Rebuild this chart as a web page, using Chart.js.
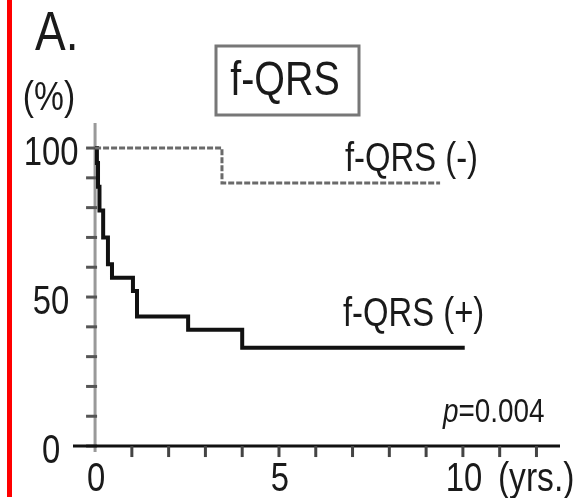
<!DOCTYPE html>
<html>
<head>
<meta charset="utf-8">
<script src="https://cdn.jsdelivr.net/npm/chart.js@4.4.1/dist/chart.umd.min.js"></script>
<style>
  html, body { margin: 0; padding: 0; background: #fff; }
  #wrap { position: relative; width: 581px; height: 498px; overflow: hidden; }
  #redBar { position: absolute; left: 7px; top: 0; width: 5px; height: 497px; background: #ff0000; }
  canvas { position: absolute; left: 0; top: 0; }
</style>
</head>
<body>
<div id="wrap">
  <canvas id="kmChart" width="581" height="498"></canvas>
  <div id="redBar"></div>
</div>
<script>
// Kaplan-Meier curves (years, % event free)
const negTimes = [0, 3.45, 9.38];
const negSurvival = [100, 88.3, 88.3];
const posTimes = [0, 0.05, 0.08, 0.12, 0.22, 0.35, 0.46, 1.03, 1.14, 2.53, 4.0, 10.05];
const posSurvival = [100, 95, 87, 79, 70, 61, 56.5, 52, 43.5, 39, 33, 33];

const xLabelValues = [0, 5, 10];
const yLabelValues = [0, 50, 100];
const xTickValues = [0, 1, 2, 3, 4, 5, 6, 7, 8, 9, 10, 11, 12];
const yTickValues = [0, 10, 20, 30, 40, 50, 60, 70, 80, 90, 100];

const FONT = '"Liberation Sans", Arial, sans-serif';
const TEXT = '#1a1a1a';
const SQUEEZE = 0.82; // the scan's lettering is a narrow Arial

function pts(xs, ys) {
  return xs.map((t, i) => ({ x: t, y: ys[i] }));
}

// draws real text, horizontally condensed
function narrowText(ctx, str, x, y, size, align, style) {
  ctx.save();
  ctx.font = (style ? style + ' ' : '') + size + 'px ' + FONT;
  ctx.textAlign = align;
  ctx.textBaseline = 'alphabetic';
  ctx.fillStyle = TEXT;
  ctx.translate(x, y);
  ctx.scale(SQUEEZE, 1);
  ctx.fillText(str, 0, 0);
  const w = ctx.measureText(str).width * SQUEEZE;
  ctx.restore();
  return w;
}

const axesPlugin = {
  id: 'kmAxes',
  beforeDatasetsDraw(chart) {
    const ctx = chart.ctx;
    const xs = chart.scales.x, ys = chart.scales.y, area = chart.chartArea;
    const x0 = xs.getPixelForValue(0), y0 = ys.getPixelForValue(0);
    ctx.save();
    // y axis
    ctx.strokeStyle = '#999';
    ctx.lineWidth = 3;
    ctx.beginPath(); ctx.moveTo(x0, area.top); ctx.lineTo(x0, area.bottom); ctx.stroke();
    ctx.strokeStyle = '#555';
    yTickValues.forEach(v => {
      const py = ys.getPixelForValue(v);
      ctx.beginPath(); ctx.moveTo(x0 - 9, py); ctx.lineTo(x0 + 2, py); ctx.stroke();
    });
    // x axis
    ctx.strokeStyle = '#111';
    ctx.beginPath(); ctx.moveTo(area.left, y0); ctx.lineTo(area.right, y0); ctx.stroke();
    ctx.strokeStyle = '#444';
    xTickValues.forEach(v => {
      if (v === 0) return;
      const px = xs.getPixelForValue(v);
      ctx.beginPath(); ctx.moveTo(px, y0); ctx.lineTo(px, y0 + 11); ctx.stroke();
    });
    ctx.restore();
  },
  afterDraw(chart) {
    const ctx = chart.ctx;
    const xs = chart.scales.x, ys = chart.scales.y;
    const x0 = xs.getPixelForValue(0), y0 = ys.getPixelForValue(0);

    // tick labels
    yLabelValues.forEach(v => {
      narrowText(ctx, String(v), x0 - 44, ys.getPixelForValue(v) + 17, 40, 'center');
    });
    xLabelValues.forEach(v => {
      narrowText(ctx, String(v), xs.getPixelForValue(v) + 1, y0 + 45, 40, 'center');
    });
    narrowText(ctx, '(yrs.)', xs.getPixelForValue(10) + 35, y0 + 45, 41, 'left');
    narrowText(ctx, '(%)', 49, 110, 41, 'center');

    // panel letter
    narrowText(ctx, 'A.', 35, 50, 56, 'left');

    // boxed title
    ctx.save();
    ctx.strokeStyle = '#777';
    ctx.lineWidth = 3;
    ctx.strokeRect(216, 46, 143, 69);
    ctx.restore();
    narrowText(ctx, 'f-QRS', 285, 95, 48, 'center');

    // curve labels
    narrowText(ctx, 'f-QRS (-)', 345, 171, 40, 'left');
    narrowText(ctx, 'f-QRS (+)', 343, 326, 40, 'left');

    // p value
    const pw = narrowText(ctx, 'p', 443, 422, 34, 'left', 'italic');
    narrowText(ctx, '=0.004', 443 + pw, 422, 34, 'left');
  }
};

const ctx = document.getElementById('kmChart').getContext('2d');
const kmChart = new Chart(ctx, {
  type: 'line',
  data: {
    datasets: [
      {
        label: 'f-QRS (-)',
        data: pts(negTimes, negSurvival),
        stepped: true,
        borderColor: '#6a6a6a',
        borderWidth: 3,
        borderDash: [6, 2],
        pointRadius: 0,
        fill: false
      },
      {
        label: 'f-QRS (+)',
        data: pts(posTimes, posSurvival),
        stepped: true,
        borderColor: '#111',
        borderWidth: 4,
        pointRadius: 0,
        fill: false
      }
    ]
  },
  options: {
    responsive: false,
    animation: false,
    layout: { padding: { left: 73, right: 21, top: 123, bottom: 46 } },
    scales: {
      x: { type: 'linear', min: -0.6, max: 12.64, display: false },
      y: { type: 'linear', min: -2, max: 108.4, display: false }
    },
    plugins: {
      legend: { display: false },
      tooltip: { enabled: false }
    }
  },
  plugins: [axesPlugin]
});
</script>
</body>
</html>
